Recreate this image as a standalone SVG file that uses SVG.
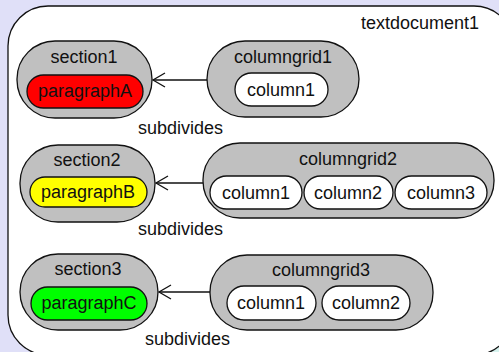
<svg xmlns="http://www.w3.org/2000/svg" width="499" height="352" viewBox="0 0 499 352">
<style>
text{font-family:"Liberation Sans",Arial,sans-serif;font-size:18px;fill:#111}
.c{text-anchor:middle}
.outer{fill:#ffffff;stroke:#111;stroke-width:1.3}
.grp{fill:#c0c0c0;stroke:#111;stroke-width:1.3}
.col{fill:#ffffff;stroke:#111;stroke-width:1.3}
.edge{fill:none;stroke:#111;stroke-width:1.3}
</style>
<defs>
<marker id="open" markerWidth="16" markerHeight="16" refX="13" refY="8" orient="auto" markerUnits="userSpaceOnUse">
<path d="M1,1 L13,8 L1,15" fill="none" stroke="#111" stroke-width="1.3"/>
</marker>
</defs>
<rect x="0" y="0" width="499" height="352" fill="#e0e0f8"/>
<rect x="470" y="325" width="29" height="27" fill="#d6f2ee"/>
<g id="textdocument1">
<rect class="outer" x="8" y="6" width="506" height="349" rx="40"/>
<text x="479" y="29" style="text-anchor:end">textdocument1</text>
</g>
<g id="section1">
<rect class="grp" x="17" y="41" width="135" height="77" rx="38"/>
<text class="c" x="84" y="63">section1</text>
<g id="paragraphA">
<rect x="27" y="75" width="116" height="33" rx="16.5" fill="#ff0000" stroke="#111" stroke-width="1.3"/>
<text class="c" x="85" y="97">paragraphA</text>
</g>
</g>
<g id="columngrid1">
<rect class="grp" x="207" y="41" width="152" height="76" rx="38"/>
<text class="c" x="283" y="63">columngrid1</text>
<g id="columngrid1-column1">
<rect class="col" x="235" y="73" width="93" height="33" rx="16.5"/>
<text class="c" x="281" y="96">column1</text>
</g>
</g>
<g id="section2">
<rect class="grp" x="20" y="145" width="135" height="77" rx="38"/>
<text class="c" x="87" y="166">section2</text>
<g id="paragraphB">
<rect x="30" y="177" width="117" height="30" rx="15" fill="#ffff00" stroke="#111" stroke-width="1.3"/>
<text class="c" x="88" y="198">paragraphB</text>
</g>
</g>
<g id="columngrid2">
<rect class="grp" x="203" y="143" width="291" height="75" rx="37"/>
<text class="c" x="348" y="165">columngrid2</text>
<g id="columngrid2-column1">
<rect class="col" x="210" y="176" width="92" height="33" rx="16.5"/>
<text class="c" x="256" y="199">column1</text>
</g>
<g id="columngrid2-column2">
<rect class="col" x="304" y="176" width="89" height="33" rx="16.5"/>
<text class="c" x="348" y="199">column2</text>
</g>
<g id="columngrid2-column3">
<rect class="col" x="395" y="176" width="92" height="33" rx="16.5"/>
<text class="c" x="441" y="199">column3</text>
</g>
</g>
<g id="section3">
<rect class="grp" x="20" y="254" width="138" height="76" rx="38"/>
<text class="c" x="88" y="275">section3</text>
<g id="paragraphC">
<rect x="31" y="287" width="116" height="33" rx="16.5" fill="#00ff00" stroke="#111" stroke-width="1.3"/>
<text class="c" x="89" y="309">paragraphC</text>
</g>
</g>
<g id="columngrid3">
<rect class="grp" x="210" y="255" width="223" height="75" rx="37"/>
<text class="c" x="321" y="276">columngrid3</text>
<g id="columngrid3-column1">
<rect class="col" x="227" y="286" width="89" height="34" rx="17"/>
<text class="c" x="271" y="309">column1</text>
</g>
<g id="columngrid3-column2">
<rect class="col" x="322" y="286" width="88" height="34" rx="17"/>
<text class="c" x="366" y="309">column2</text>
</g>
</g>
<g id="connectors">
<path class="edge" d="M207,80 L153,80" marker-end="url(#open)"/>
<text x="138" y="134">subdivides</text>
<path class="edge" d="M203,183 L156,183" marker-end="url(#open)"/>
<text x="138" y="235">subdivides</text>
<path class="edge" d="M210,292 L159,292" marker-end="url(#open)"/>
<text x="145" y="345">subdivides</text>
</g>
</svg>
